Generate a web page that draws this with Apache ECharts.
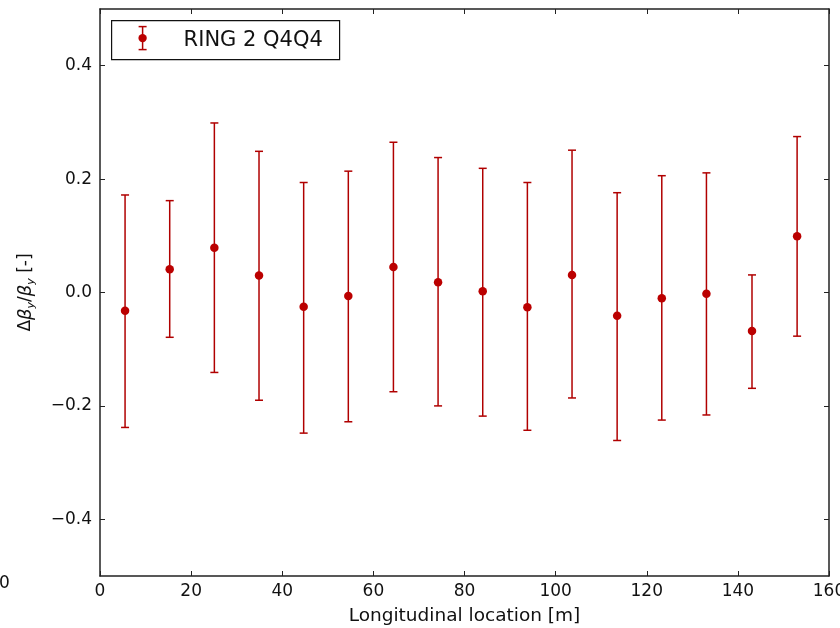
<!DOCTYPE html>
<html>
<head>
<meta charset="utf-8">
<script src="https://cdn.jsdelivr.net/npm/echarts@6/dist/echarts.min.js"></script>
<style>
html,body{margin:0;padding:0;background:#fff;}
#c{width:840px;height:628px;}
</style>
</head>
<body>
<div id="c"></div>
<script>
// Data
const xPositions = [5.5, 15.3, 25.1, 34.9, 44.7, 54.5, 64.4, 74.2, 84.0, 93.8, 103.6, 113.5, 123.3, 133.1, 143.1, 153.0];
const meanValues = [-0.032, 0.041, 0.079, 0.030, -0.025, -0.006, 0.045, 0.018, 0.002, -0.026, 0.031, -0.041, -0.010, -0.002, -0.068, 0.099];
const upperValues = [0.172, 0.162, 0.299, 0.249, 0.194, 0.214, 0.265, 0.238, 0.219, 0.194, 0.251, 0.176, 0.206, 0.211, 0.031, 0.275];
const lowerValues = [-0.238, -0.079, -0.141, -0.190, -0.248, -0.228, -0.175, -0.200, -0.218, -0.243, -0.186, -0.261, -0.225, -0.216, -0.169, -0.077];
const yTickValues = [-0.4, -0.2, 0.0, 0.2, 0.4];
const xTickValues = [0, 20, 40, 60, 80, 100, 120, 140, 160];
const seriesName = 'RING 2 Q4Q4';

const FONT = 'DejaVu Sans';
const LINE = '#b00000';
const MARK = '#bb0000';
const AX = '#222';

const pointData = xPositions.map((x, i) => [x, meanValues[i]]);
const barData = xPositions.map((x, i) => [x, lowerValues[i], upperValues[i]]);

function fmtY(v) {
  const s = Math.abs(v).toFixed(1);
  return v < -1e-9 ? '\u2212' + s : s;
}

const chart = echarts.init(document.getElementById('c'), null, {renderer: 'canvas'});

const tickCommon = {show: true, inside: true, length: 5, lineStyle: {color: AX, width: 1}};

const option = {
  backgroundColor: '#fff',
  animation: false,
  grid: {left: 100, right: 11, top: 9, bottom: 52, containLabel: false, outerBoundsMode: 'none'},
  xAxis: [{
    type: 'value', min: 0, max: 160, interval: 20, position: 'bottom',
    axisLine: {show: true, onZero: false, lineStyle: {color: AX, width: 1.5}},
    axisTick: tickCommon,
    splitLine: {show: false},
    axisLabel: {color: '#111', fontFamily: FONT, fontSize: 17, margin: 7, showMaxLabel: true, showMinLabel: true, hideOverlap: false},
    name: 'Longitudinal location [m]', nameLocation: 'middle', nameGap: 31,
    nameTextStyle: {color: '#111', fontFamily: FONT, fontSize: 18.5}
  }, {
    type: 'value', min: 0, max: 160, interval: 20, position: 'top',
    axisLine: {show: true, onZero: false, lineStyle: {color: AX, width: 1.5}},
    axisTick: tickCommon, axisLabel: {show: false}, splitLine: {show: false}
  }],
  yAxis: [{
    type: 'value', min: -0.5, max: 0.5, position: 'left',
    axisLine: {show: true, onZero: false, lineStyle: {color: AX, width: 1.5}},
    axisTick: Object.assign({}, tickCommon, {customValues: yTickValues}),
    splitLine: {show: false},
    axisLabel: {customValues: yTickValues, formatter: fmtY, color: '#111', fontFamily: FONT, fontSize: 17, margin: 8},
    name: '{n|\u0394}{i|\u03b2}{s|y}{n|/}{i|\u03b2}{s|y}{n| [-]}',
    nameLocation: 'middle', nameGap: 63, nameRotate: 90,
    nameTextStyle: {
      color: '#111', fontFamily: FONT, fontSize: 17,
      rich: {
        n: {fontFamily: FONT, fontSize: 17, color: '#111', lineHeight: 22, verticalAlign: 'middle'},
        i: {fontFamily: FONT, fontSize: 18, fontStyle: 'italic', color: '#111', lineHeight: 22, verticalAlign: 'middle'},
        s: {fontFamily: FONT, fontSize: 11, fontStyle: 'italic', color: '#111', lineHeight: 22, verticalAlign: 'bottom'}
      }
    }
  }, {
    type: 'value', min: -0.5, max: 0.5, position: 'right',
    axisLine: {show: true, onZero: false, lineStyle: {color: AX, width: 1.5}},
    axisTick: Object.assign({}, tickCommon, {customValues: yTickValues}),
    axisLabel: {show: false}, splitLine: {show: false}
  }],
  series: [{
    name: seriesName,
    type: 'custom',
    xAxisIndex: 0, yAxisIndex: 0,
    data: barData,
    z: 2,
    renderItem: function (params, api) {
      const x = api.value(0);
      const lo = api.coord([x, api.value(1)]);
      const hi = api.coord([x, api.value(2)]);
      const hw = 4;
      const style = {stroke: LINE, lineWidth: 1.5, fill: null};
      return {
        type: 'group',
        children: [
          {type: 'line', shape: {x1: lo[0], y1: lo[1], x2: hi[0], y2: hi[1]}, style: style},
          {type: 'line', shape: {x1: hi[0] - hw, y1: hi[1], x2: hi[0] + hw, y2: hi[1]}, style: style},
          {type: 'line', shape: {x1: lo[0] - hw, y1: lo[1], x2: lo[0] + hw, y2: lo[1]}, style: style}
        ]
      };
    }
  }, {
    name: seriesName,
    type: 'scatter',
    xAxisIndex: 0, yAxisIndex: 0,
    data: pointData,
    symbol: 'circle', symbolSize: 8.5,
    itemStyle: {color: MARK, opacity: 1},
    emphasis: {disabled: true},
    z: 3
  }],
  graphic: [
    {
      type: 'group', left: 111, top: 20,
      children: [
        {type: 'rect', shape: {x: 0, y: 0, width: 228, height: 39}, style: {fill: '#fff', stroke: '#111', lineWidth: 1.2}},
        {type: 'line', shape: {x1: 31, y1: 6, x2: 31, y2: 29}, style: {stroke: LINE, lineWidth: 1.5}},
        {type: 'line', shape: {x1: 27, y1: 6, x2: 35, y2: 6}, style: {stroke: LINE, lineWidth: 1.5}},
        {type: 'line', shape: {x1: 27, y1: 29, x2: 35, y2: 29}, style: {stroke: LINE, lineWidth: 1.5}},
        {type: 'circle', shape: {cx: 31, cy: 17.5, r: 4.2}, style: {fill: MARK}},
        {type: 'text', x: 72, y: 19.5, style: {text: seriesName, fontFamily: FONT, fontSize: 21, fill: '#111', verticalAlign: 'middle', align: 'left'}}
      ]
    },
    {type: 'text', left: -1, top: 575, style: {text: '0', fontFamily: FONT, fontSize: 17, fill: '#111'}}
  ]
};
chart.setOption(option);
</script>
</body>
</html>
